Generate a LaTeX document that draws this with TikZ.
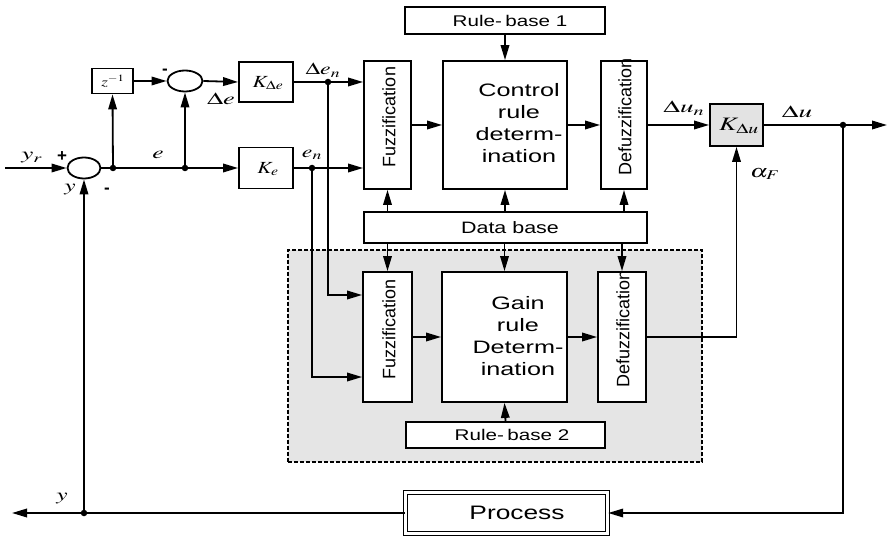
\documentclass[tikz,border=0pt]{standalone}
\usepackage{mathptmx}
\usepackage[no-math]{fontspec}
\setmainfont{Liberation Sans}
\usetikzlibrary{shapes.geometric,arrows.meta}
\newcommand{\hx}[2]{\scalebox{#1}[1]{#2}}
\begin{document}
\begin{tikzpicture}[x=1pt,y=-1pt,
  line width=1.8pt,
  >={Triangle[length=15pt,width=8.5pt]},
  blk/.style={draw, line width=1.8pt, fill=white, inner sep=0pt},
  sumc/.style={draw, ellipse, line width=1.8pt, fill=white, inner sep=0pt, minimum width=33pt, minimum height=21pt},
  jdot/.style={circle, fill, inner sep=0pt, minimum size=6.5pt},
  lbl/.style={font=\fontsize{17}{17}\selectfont, inner sep=0pt},
  klbl/.style={font=\fontsize{17}{17}\selectfont, inner sep=0pt},
  txt/.style={font=\fontsize{18}{22}\selectfont, inner sep=0pt},
  small/.style={font=\fontsize{15.5}{15.5}\selectfont, inner sep=0pt},
  rot/.style={rotate=90, font=\fontsize{18}{18}\selectfont, inner sep=0pt}]
\useasboundingbox (0,0) rectangle (889,540);

% grey dashed region
\node[draw, line width=2pt, dash pattern=on 4pt off 2pt, fill=gray!20, minimum width=414pt, minimum height=212pt, inner sep=0pt] (region) at (495,356) {};

% blocks
\node[sumc] (sum1) at (84,168) {};
\node[sumc, minimum width=35pt] (sum2) at (185,81) {};
\node[blk, minimum width=41pt, minimum height=25pt] (z) at (112.5,81) {};
\node[font=\fontsize{13}{13}\selectfont, inner sep=0pt] (zt) at (113,81) {\hx{1.3}{$z^{-1}$}};
\node[blk, minimum width=54pt, minimum height=40pt] (Kde) at (266,82) {};
\node[klbl] (Kdet) at (268,83) {\hx{1.25}{$K_{\Delta e}$}};
\node[blk, minimum width=54pt, minimum height=41pt] (Ke) at (266,168) {};
\node[klbl] (Ket) at (268,169) {\hx{1.25}{$K_{e}$}};

\node[blk, minimum width=200pt, minimum height=27pt] (rb1) at (505,20.5) {};
\node[small] (rb1t) at (510,20.5) {\hx{1.33}{Rule-\,base 1}};
\node[blk, minimum width=47pt, minimum height=128pt] (fuzz1) at (387.5,125) {};
\node[rot] (fuzz1t) at (389,117) {Fuzzification};
\node[blk, minimum width=124pt, minimum height=128pt] (ctrl) at (505,125) {};
\node[txt] (ctrlt) at (519,125) {\hx{1.4}{\begin{tabular}{@{}c@{}}Control\\rule\\determ-\\ination\end{tabular}}};
\node[blk, minimum width=46pt, minimum height=128pt] (defuzz1) at (624,125) {};
\node[rot] (defuzz1t) at (625,117) {Defuzzification};
\node[blk, minimum width=53pt, minimum height=42pt, fill=gray!22] (Kdu) at (736.5,125) {};
\node[font=\fontsize{19}{19}\selectfont, inner sep=0pt] (Kdut) at (739,126) {\hx{1.4}{$K_{\Delta u}$}};

\node[blk, minimum width=283pt, minimum height=31pt] (db) at (505.5,227.5) {};
\node[font=\fontsize{16.5}{16.5}\selectfont, inner sep=0pt] (dbt) at (510,227.5) {\hx{1.3}{Data base}};

\node[blk, minimum width=49pt, minimum height=130pt] (fuzz2) at (387.5,337) {};
\node[rot] (fuzz2t) at (389,329) {Fuzzification};
\node[blk, minimum width=125pt, minimum height=130pt] (gain) at (504.5,337) {};
\node[txt] (gaint) at (518,338) {\hx{1.4}{\begin{tabular}{@{}c@{}}Gain\\rule\\Determ-\\ination\end{tabular}}};
\node[blk, minimum width=48pt, minimum height=130pt] (defuzz2) at (622,337) {};
\node[rot] (defuzz2t) at (623,329) {Defuzzification};
\node[blk, minimum width=199pt, minimum height=26pt] (rb2) at (505.5,435) {};
\node[small] (rb2t) at (512,435) {\hx{1.33}{Rule-\,base 2}};

\node[draw, double, double distance=2.5pt, line width=1.3pt, fill=white, minimum width=202pt, minimum height=41pt, inner sep=0pt] (proc) at (506.5,513) {};
\node[font=\fontsize{19.5}{19.5}\selectfont, inner sep=0pt] (proct) at (517,513) {\hx{1.35}{Process}};

% junctions and ends
\coordinate (in) at (5,168);
\coordinate (j1) at (113,168);
\coordinate (j2) at (185,168);
\coordinate (j3) at (328,82);
\coordinate (j4) at (312,168);
\coordinate (j5) at (843,125);
\coordinate (j6) at (84,513);
\coordinate (out) at (887,125);
\coordinate (yout) at (12,513);
\path (fuzz2.west) ++(0,-42) coordinate (f2a);
\path (fuzz2.west) ++(0,40) coordinate (f2b);
\coordinate (kin) at (736.5,337);

% connectors
\draw[->] (in) -- (sum1.west);
\draw (sum1.east) -- (j1) -- (j2);
\draw[->] (j2) -- (Ke.west);
\draw[->] (j1) -- (z.south);
\draw[->] (z.east) -- (sum2.west);
\draw[->] (j2) -- (sum2.south);
\draw[->] (sum2.east) -- (Kde.west);
\draw (Kde.east) -- (j3);
\draw[->] (j3) -- (j3 -| fuzz1.west);
\draw (Ke.east) -- (j4);
\draw[->] (j4) -- (j4 -| fuzz1.west);
\draw[->] (j3) |- (f2a);
\draw[->] (j4) |- (f2b);

\draw[->] (fuzz1.east) -- (ctrl.west);
\draw[->] (ctrl.east) -- (defuzz1.west);
\draw[->] (rb1.south) -- (ctrl.north);
\draw[->] (db.north -| fuzz1) -- (fuzz1.south);
\draw[->] (db.north -| ctrl) -- (ctrl.south);
\draw[->] (db.north -| defuzz1) -- (defuzz1.south);
\draw[->] (db.south -| fuzz2) -- (fuzz2.north);
\draw[->] (db.south -| gain) -- (gain.north);
\draw[->] (db.south -| defuzz2) -- (defuzz2.north);

\draw[->] (fuzz2.east) -- (gain.west);
\draw[->] (gain.east) -- (defuzz2.west);
\draw[->] (rb2.north) -- (gain.south);

\draw[->] (defuzz1.east) -- (Kdu.west);
\draw[line width=1.2pt] (defuzz2.east) -- (kin);
\draw[->] (kin) -- (Kdu.south);
\draw (Kdu.east) -- (j5);
\draw[->] (j5) -- (out);
\draw[->] (j5) |- (proc.east);
\draw (proc.west) -- (j6);
\draw[->] (j6) -- (yout);
\draw[->] (j6) -- (sum1.south);

\foreach \j in {j1,j2,j3,j4,j5,j6} \node[jdot] at (\j) {};

% labels
\node[lbl] (lyr) at (32,158) {\hx{1.6}{$y_r$}};
\node[lbl] (lplus) at (62,157) {\textbf{+}};
\node[lbl] (ly1) at (70,190) {\hx{1.5}{$y$}};
\node[lbl] (lm1) at (107,191) {\textbf{-}};
\node[lbl] (le) at (158,155) {\hx{1.5}{$e$}};
\node[lbl] (lm2) at (165,72) {\textbf{-}};
\node[lbl] (lde) at (221,99) {\hx{1.55}{$\Delta e$}};
\node[lbl] (lden) at (323,70) {\hx{1.4}{$\Delta e_n$}};
\node[lbl] (len) at (312,155) {\hx{1.4}{$e_n$}};
\node[lbl] (ldun) at (684,108) {\hx{1.6}{$\Delta u_n$}};
\node[lbl] (ldu) at (797,112) {\hx{1.6}{$\Delta u$}};
\node[font=\fontsize{18}{18}\selectfont, inner sep=0pt] (laf) at (765,174) {\hx{1.4}{$\alpha_F$}};
\node[lbl] (ly2) at (62,499) {\hx{1.5}{$y$}};
\end{tikzpicture}
\end{document}
